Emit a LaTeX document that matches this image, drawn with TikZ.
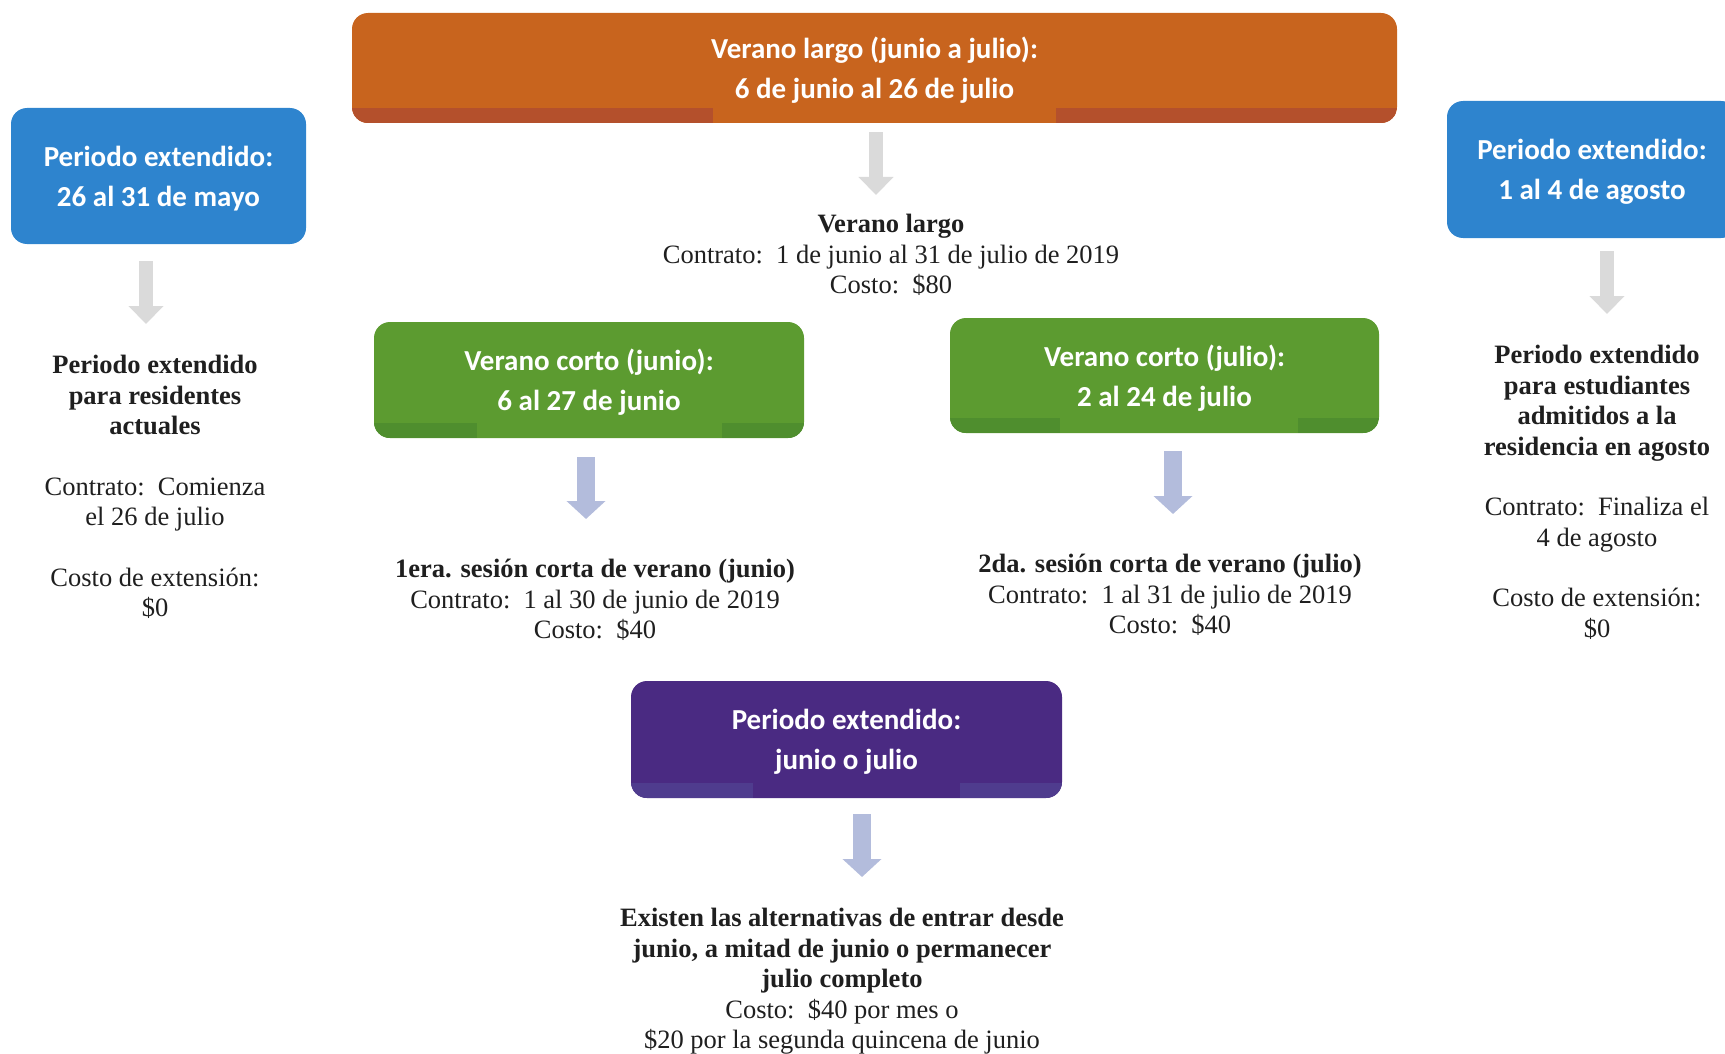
\documentclass[tikz,border=0pt]{standalone}
\usepackage{fontspec}
\setmainfont{Liberation Serif}
\newfontfamily\boxfont{Carlito}
\usetikzlibrary{arrows.meta}
\usetikzlibrary{calc}

\definecolor{naranja}{HTML}{C8641E}
\definecolor{naranjaband}{HTML}{B4502C}
\definecolor{azul}{HTML}{2E84CE}
\definecolor{verde}{HTML}{5C9B30}
\definecolor{verdeband}{HTML}{4F8E2E}
\definecolor{morado}{HTML}{4A2A82}
\definecolor{moradoband}{HTML}{4F3C8E}
\definecolor{gris}{HTML}{DADADA}
\definecolor{lavanda}{HTML}{B3BCDC}

\begin{document}
\begin{tikzpicture}[x=1pt, y=-1pt,
    band/.style n args={3}{path picture={
        \fill[#3, sharp corners] (path picture bounding box.south west) rectangle ([yshift=15pt]$(path picture bounding box.south west)!#1!(path picture bounding box.south east)$);
        \fill[#3, sharp corners] (path picture bounding box.south east) rectangle ([yshift=15pt]$(path picture bounding box.south west)!#2!(path picture bounding box.south east)$);
    }}] % page is 1725 x 1054
    \tikzstyle{box}=[rounded corners=16pt, text=white, align=center, inner sep=0pt, text depth=0pt, font=\boxfont\bfseries\fontsize{29}{40}\selectfont]
    \tikzstyle{info}=[anchor=north, align=center, inner sep=0pt, text=black!88, font=\fontsize{26.5}{30.5}\selectfont]
    \tikzstyle{grayarrow}=[draw=gris, line width=14pt, -{Triangle[width=34pt,length=18pt]}]
    \tikzstyle{lavarrow}=[draw=lavanda, line width=18pt, -{Triangle[width=38pt,length=18pt]}]
    \useasboundingbox (0,0) rectangle (1725,1054);
    \clip (0,0) rectangle (1725,1054);

    % Boxes
    \node[box, fill=naranja, minimum width=1045pt, minimum height=110pt, band={0.345}{0.674}{naranjaband}] (veranolargo) at (874.5,68) {Verano largo (junio a julio):\\6 de junio al 26 de julio};
    \node[box, fill=azul, minimum width=295pt, minimum height=136pt] (extmayo) at (158.5,176) {Periodo extendido:\\26 al 31 de mayo};
    \node[box, fill=azul, minimum width=290pt, minimum height=137pt] (extagosto) at (1592,169.5) {Periodo extendido:\\1 al 4 de agosto};
    \node[box, fill=verde, minimum width=430pt, minimum height=116pt, band={0.24}{0.81}{verdeband}] (cortojunio) at (589,380) {Verano corto (junio):\\6 al 27 de junio};
    \node[box, fill=verde, minimum width=429pt, minimum height=115pt, band={0.256}{0.81}{verdeband}] (cortojulio) at (1164.5,375.5) {Verano corto (julio):\\2 al 24 de julio};
    \node[box, fill=morado, minimum width=431pt, minimum height=117pt, band={0.283}{0.763}{moradoband}] (extjuniojulio) at (846.5,739.5) {Periodo extendido:\\junio o julio};

    % Texts
    \node[info] (largo) at (891,214) {\textbf{Verano largo}\\Contrato:\ \ 1 de junio al 31 de julio de 2019\\Costo:\ \ \$80};
    \node[info] (residentes) at (155,355) {\textbf{Periodo extendido}\\\textbf{para residentes}\\\textbf{actuales}\\[30pt]Contrato:\ \ Comienza\\el 26 de julio\\[30pt]Costo de extensión:\\\$0};
    \node[info] (admitidos) at (1597,345) {\textbf{Periodo extendido}\\\textbf{para estudiantes}\\\textbf{admitidos a la}\\\textbf{residencia en agosto}\\[30pt]Contrato:\ \ Finaliza el\\4 de agosto\\[30pt]Costo de extensión:\\\$0};
    \node[info] (sesionjunio) at (595,559) {\textbf{1era. sesión corta de verano (junio)}\\Contrato:\ \ 1 al 30 de junio de 2019\\Costo:\ \ \$40};
    \node[info] (sesionjulio) at (1170,554) {\textbf{2da. sesión corta de verano (julio)}\\Contrato:\ \ 1 al 31 de julio de 2019\\Costo:\ \ \$40};
    \node[info] (alternativas) at (842,908) {\textbf{Existen las alternativas de entrar desde}\\\textbf{junio, a mitad de junio o permanecer}\\\textbf{julio completo}\\Costo:\ \ \$40 por mes o\\\$20 por la segunda quincena de junio};

    % Arrows
    \foreach \from/\to/\dx/\gap/\tipgap in {veranolargo/largo/1.5/9/19, extmayo/residentes/-12.5/17/31, extagosto/admitidos/15/13/31}
        \draw[grayarrow, shorten <=\gap pt, shorten >=\tipgap pt] ([xshift=\dx pt]\from.south) -- ([xshift=\dx pt]\from.south |- \to.north);
    \foreach \from/\to/\dx/\gap/\tipgap in {cortojunio/sesionjunio/-3/19/40, cortojulio/sesionjulio/8.5/18/40, extjuniojulio/alternativas/15.5/16/31}
        \draw[lavarrow, shorten <=\gap pt, shorten >=\tipgap pt] ([xshift=\dx pt]\from.south) -- ([xshift=\dx pt]\from.south |- \to.north);
\end{tikzpicture}
\end{document}
